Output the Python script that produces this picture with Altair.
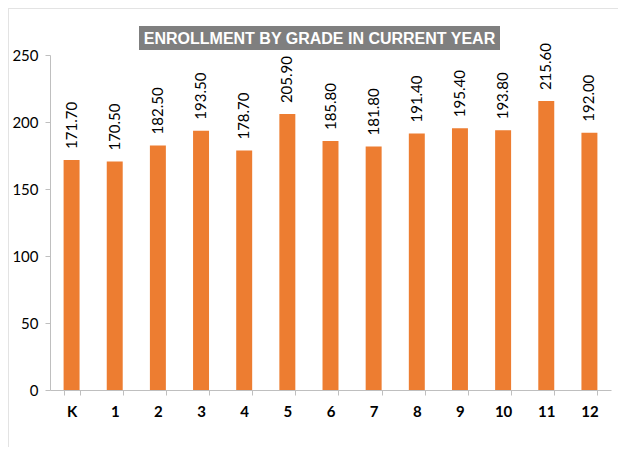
import altair as alt
import pandas as pd

grades = ["K", "1", "2", "3", "4", "5", "6", "7", "8", "9", "10", "11", "12"]
enrollment = [171.7, 170.5, 182.5, 193.5, 178.7, 205.9, 185.8, 181.8, 191.4, 195.4, 193.8, 215.6, 192.0]
y_ticks = [0, 50, 100, 150, 200, 250]
title_text = "ENROLLMENT BY GRADE IN CURRENT YEAR"

df = pd.DataFrame({"grade": grades, "value": enrollment})
df["label"] = df["value"].map(lambda v: f"{v:.2f}")

W, H = 561, 335

x = alt.X("grade:N", sort=grades, title=None,
          scale=alt.Scale(paddingInner=0.63, paddingOuter=0.315),
          axis=alt.Axis(labelAngle=0, labelFont="Lato", labelFontSize=15, labelFontWeight="bold",
                        labelColor="#000000", labelPadding=9, domainColor="#BFBFBF", tickColor="#BFBFBF",
                        tickSize=5, tickBand="extent", grid=False))
y = alt.Y("value:Q", title=None,
          scale=alt.Scale(domain=[0, 250], nice=False),
          axis=alt.Axis(values=y_ticks, labelFont="Lato", labelFontSize=15, labelColor="#000000",
                        labelPadding=7, domainColor="#BFBFBF", tickColor="#BFBFBF", tickSize=5, grid=False))

base = alt.Chart(df)
bars = base.mark_bar(color="#ED7D31").encode(x=x, y=y)
labels = base.mark_text(angle=270, align="left", baseline="middle", dx=11, font="Lato",
                        fontSize=15, color="#000000").encode(x=x, y=y, text="label:N")

title_df = pd.DataFrame({"t": [title_text]})
title_bg = alt.Chart(title_df).mark_rect(color="#7F7F7F").encode(
    x=alt.value(89), x2=alt.value(450), y=alt.value(-29), y2=alt.value(-5))
title_txt = alt.Chart(title_df).mark_text(font="Liberation Sans", fontSize=16, fontWeight="bold",
                                          color="#FFFFFF", align="center", baseline="middle").encode(
    x=alt.value(269.5), y=alt.value(-16.5), text="t:N")

border_left = alt.Chart(title_df).mark_rule(color="#E3E3E3").encode(
    x=alt.value(-41.5), y=alt.value(-47), y2=alt.value(392))
border_top = alt.Chart(title_df).mark_rule(color="#E3E3E3").encode(
    x=alt.value(-42), x2=alt.value(568), y=alt.value(-46.5))

chart = alt.layer(border_left, border_top, bars, labels, title_bg, title_txt).properties(
    width=W, height=H,
    autosize=alt.AutoSizeParams(type="none"),
    padding={"left": 42, "top": 47, "right": 7, "bottom": 57},
).configure_view(stroke=None)

chart.save("out.html", embed_options={"renderer": "svg", "actions": False})
